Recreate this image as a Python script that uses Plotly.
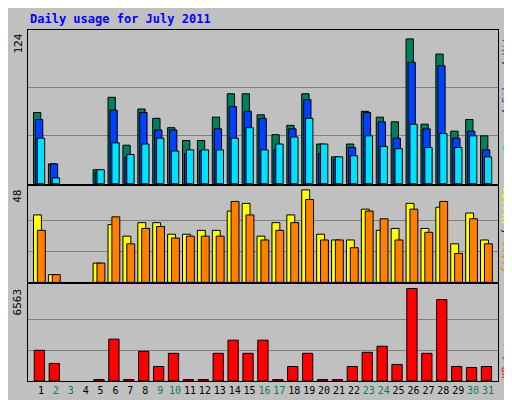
import plotly.graph_objects as go

days = list(range(1, 32))
hits  = [61,17,0,0,12,74,33,64,56,48,37,37,57,77,77,59,42,50,77,34,23,34,62,57,53,124,51,111,45,55,41]
files = [55,17,0,0,10,63,23,61,46,46,26,28,47,66,62,56,29,47,72,26,21,31,61,53,39,104,47,101,39,45,29]
pages = [39,5,0,0,12,35,25,34,39,28,29,29,29,39,48,29,34,40,56,34,23,24,41,32,30,51,31,43,31,41,23]
visits = [35,4,0,0,10,30,24,31,31,25,25,27,27,37,41,24,31,35,48,25,22,22,38,27,28,41,28,39,20,36,22]
sites  = [27,4,0,0,10,34,20,28,29,23,24,24,24,42,35,22,27,31,43,22,22,18,37,33,22,38,26,42,15,33,20]
kbytes = [2180,1245,0,0,100,2970,100,2108,1030,1964,100,100,1964,2898,1964,2898,100,1030,1964,100,100,1030,2036,2467,1174,6563,1964,5773,1030,958,1030]
weekend = {2,3,9,10,16,17,23,24,30,31}
ticktext = [f"<span style='color:#00805C'>{d}</span>" if d in weekend else str(d) for d in days]

fig = go.Figure()
def bar(y, color, off, w, ax):
    yy = [v if v > 0 else None for v in y]
    fig.add_trace(go.Bar(x=days, y=yy, marker=dict(color=color, line=dict(color="black", width=1)),
                         offset=off, width=w, xaxis="x"+ax, yaxis="y"+ax, showlegend=False))
bar(hits, "#00805C", -0.5, 0.49, "")
bar(files, "#0040FF", -0.37, 0.49, "")
bar(pages, "#00E0FF", -0.24, 0.49, "")
bar(visits, "#FFFF00", -0.5, 0.53, "2")
bar(sites, "#FF8000", -0.24, 0.53, "2")
bar(kbytes, "#FF0000", -0.45, 0.69, "3")

mono = "DejaVu Sans Mono"
xcommon = dict(range=[0.13, 31.67], showgrid=False, zeroline=False, showline=True, mirror=True,
               linecolor="black", linewidth=1, tickvals=days)
ycommon = dict(showline=True, mirror=True, linecolor="black", zeroline=False,
               gridcolor="#808080", gridwidth=1, showticklabels=False)
fig.update_layout(
    width=512, height=400, margin=dict(l=20, r=22, t=22, b=22),
    paper_bgcolor="#C0C0C0", plot_bgcolor="#C0C0C0", barmode="overlay",
    font=dict(family=mono, size=11, color="black"),
    xaxis=dict(**xcommon, anchor="y", showticklabels=False),
    xaxis2=dict(**xcommon, anchor="y2", showticklabels=False),
    xaxis3=dict(**xcommon, anchor="y3", ticktext=ticktext, ticks="", tickangle=0,
                tickfont=dict(size=10)),
    yaxis=dict(**ycommon, domain=[0.562, 1], range=[0, 131.6], tickvals=[124/3, 248/3]),
    yaxis2=dict(**ycommon, domain=[0.281, 0.556], range=[0, 50.1], tickvals=[16, 32]),
    yaxis3=dict(**ycommon, domain=[0, 0.275], range=[0, 6848], tickvals=[6563/3, 2*6563/3]),
    annotations=[
        dict(text="<b>Daily usage for July 2011</b>", x=0, y=1, xanchor="left", yanchor="bottom",
             yshift=2, xref="paper", yref="paper", showarrow=False,
             font=dict(color="#0000FF", size=12)),
        dict(text="124", textangle=-90, x=0, y=1, xref="paper", yref="paper", xanchor="right",
             yanchor="top", showarrow=False, xshift=-2, yshift=-2),
        dict(text="48", textangle=-90, x=0, y=0.556, xref="paper", yref="paper", xanchor="right",
             yanchor="top", showarrow=False, xshift=-2, yshift=-2),
        dict(text="6563", textangle=-90, x=0, y=0.275, xref="paper", yref="paper", xanchor="right",
             yanchor="top", showarrow=False, xshift=-2, yshift=-2),
        dict(text="<span style='color:#00E0FF'>Pages</span> / <span style='color:#0040FF'>Files</span> / <span style='color:#00805C'>Hits</span>",
             textangle=-90, x=1, y=1, xref="paper", yref="paper", xanchor="left", yanchor="top",
             showarrow=False, xshift=0, font=dict(size=10)),
        dict(text="<span style='color:#FF8000'>Sites</span> / <span style='color:#FFFF00'>Visits</span>",
             textangle=-90, x=1, y=0.556, xref="paper", yref="paper", xanchor="left", yanchor="top",
             showarrow=False, xshift=0, font=dict(size=10)),
        dict(text="<span style='color:#FF0000'>KBytes</span>",
             textangle=-90, x=1, y=0, xref="paper", yref="paper", xanchor="left", yanchor="bottom",
             showarrow=False, xshift=0, font=dict(size=10)),
    ],
)
fig.write_html("out.html")
